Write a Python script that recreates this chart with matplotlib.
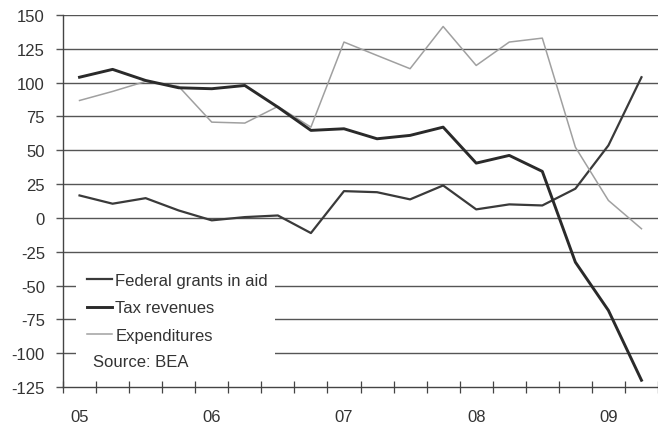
import matplotlib
matplotlib.use("Agg")
import matplotlib.pyplot as plt
from matplotlib.patches import Rectangle
import numpy as np

plt.rcParams['font.family'] = ['Liberation Sans', 'DejaVu Sans']

quarters = ['05Q1', '05Q2', '05Q3', '05Q4', '06Q1', '06Q2', '06Q3', '06Q4',
            '07Q1', '07Q2', '07Q3', '07Q4', '08Q1', '08Q2', '08Q3', '08Q4',
            '09Q1', '09Q2']
year_labels = ['05', '06', '07', '08', '09']

federal_grants = [16.6, 10.5, 14.6, 5.5, -1.8, 0.6, 1.8, -11.2,
                  19.8, 19.0, 13.7, 24.0, 6.3, 10.0, 9.2, 21.6, 53.6, 104.0]
tax_revenues = [104.0, 109.8, 101.6, 96.2, 95.5, 97.9, 81.9, 64.7,
                65.9, 58.5, 61.0, 67.1, 40.5, 46.2, 34.4, -32.7, -68.4, -120.0]
expenditures = [86.8, 93.5, 100.9, 97.2, 70.8, 70.1, 82.4, 67.1,
                130.0, 120.1, 110.3, 141.5, 112.7, 130.0, 132.9, 52.3, 12.9, -8.0]

yticks = list(range(-125, 151, 25))
FS = 12

fig = plt.figure(figsize=(6.58, 4.27), dpi=100)
ax = fig.add_axes([63/658, 1-388/427, 1-63/658, (388-16)/427])

x = np.arange(len(quarters))

for yv in yticks[1:]:
    ax.axhline(yv, color='#555555', lw=1.0, zorder=1)

ax.add_patch(Rectangle((-0.1, -112), 6.0, 77, facecolor='white',
                       edgecolor='none', zorder=2))

l1, = ax.plot(x, federal_grants, color='#3a3a3a', lw=1.6, zorder=3,
              label='Federal grants in aid')
l2, = ax.plot(x, tax_revenues, color='#2a2a2a', lw=2.1, zorder=4,
              label='Tax revenues')
l3, = ax.plot(x, expenditures, color='#a0a0a0', lw=1.1, zorder=3,
              label='Expenditures')

ax.set_xlim(-0.5, 17.15)
ax.set_ylim(-125, 150)
ax.set_yticks(yticks)
ax.set_yticklabels([str(v) for v in yticks])

ax.set_xticks(x[::4])
ax.set_xticklabels(year_labels)
ax.set_xticks(np.arange(-0.5, len(quarters) + 0.5, 1), minor=True)
ax.tick_params(axis='x', which='major', length=0, pad=16, labelsize=FS,
               labelcolor='#333333')
ax.tick_params(axis='x', which='minor', direction='inout', length=9,
               width=0.9, color='#444444')
ax.tick_params(axis='y', direction='out', length=5, width=1.0,
               color='#555555', pad=8, labelsize=FS, labelcolor='#333333')

for s in ['top', 'right']:
    ax.spines[s].set_visible(False)
ax.spines['left'].set_color('#444444')
ax.spines['bottom'].set_color('#444444')
ax.spines['left'].set_linewidth(1.0)
ax.spines['bottom'].set_linewidth(1.0)

leg = ax.legend(handles=[l1, l2, l3], loc='upper left',
                bbox_to_anchor=((87-63)/595, (388-274)/372),
                frameon=False, fontsize=FS, borderpad=0,
                borderaxespad=0, handlelength=1.5, handletextpad=0.2,
                labelspacing=0.74)
for t in leg.get_texts():
    t.set_color('#333333')
leg.set_zorder(5)

ax.text((93-63)/595, (388-363)/372, 'Source: BEA', transform=ax.transAxes,
        fontsize=FS, color='#333333', va='center', ha='left', zorder=5)

fig.savefig('out.png', dpi=100)
